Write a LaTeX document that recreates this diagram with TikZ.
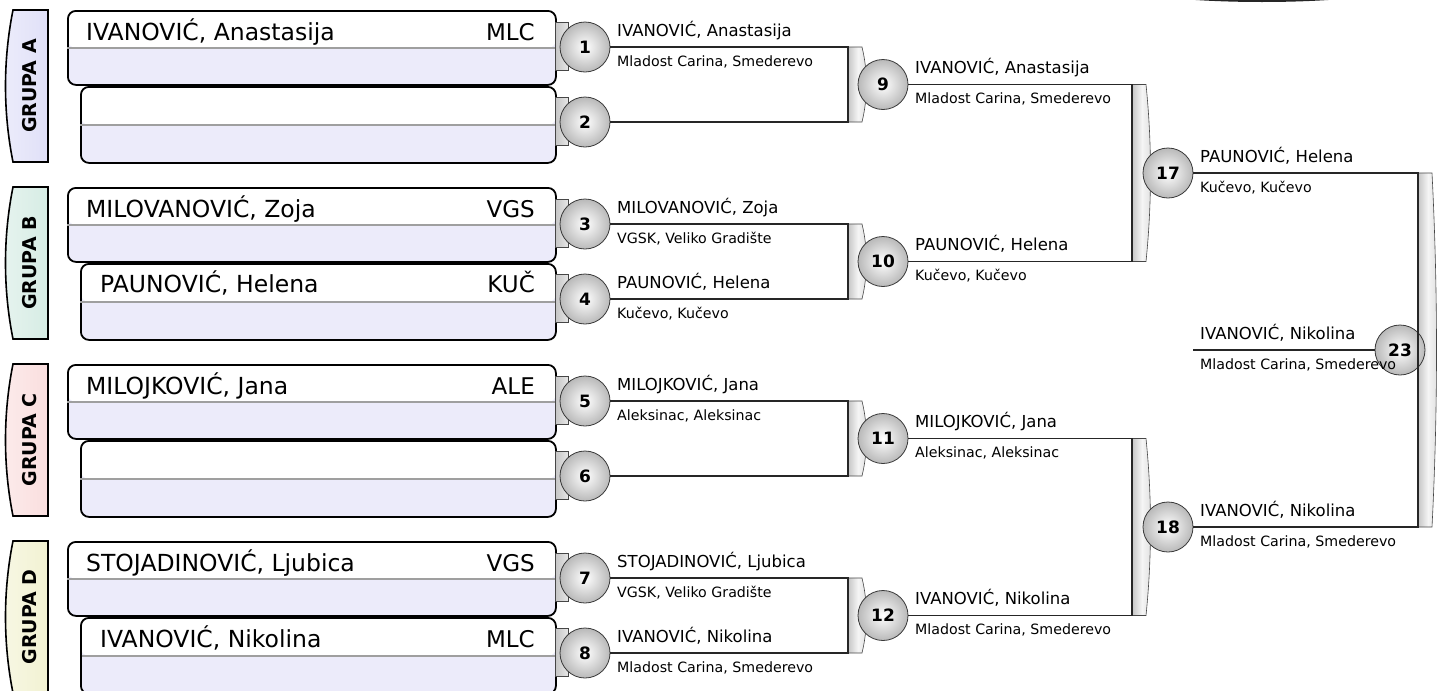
\documentclass[tikz,border=0pt]{standalone}
\usepackage{fontspec}
\setmainfont{DejaVu Sans}
\usetikzlibrary{shapes,fit,positioning}
\definecolor{slotlow}{RGB}{236,235,250}
\definecolor{grpA}{RGB}{224,224,248}
\definecolor{grpB}{RGB}{214,236,228}
\definecolor{grpC}{RGB}{250,222,222}
\definecolor{grpD}{RGB}{242,242,210}
% gray strip behind a bracket: x, top y, bottom y
\newcommand{\Strip}[3]{\path[strip] (#1,#2) -- ++(14,0) .. controls +(6,{(#3-#2)/3}) and +(6,{-(#3-#2)/3}) .. (#1+14,#3) -- (#1,#3) -- cycle;}
% group tab on the left: name, top y, colour, text
\newcommand{\Grupa}[4]{\path[grptab,left color=white!40!#3,right color=#3] (48,#2) -- (13,#2) .. controls (3,#2+50) and (3,#2+102) .. (13,#2+152) -- (48,#2+152) -- cycle;
	\node[grplabel] (#1) at (29.5,#2+76) {#4};}

\begin{document}
\begin{tikzpicture}[x=1pt,y=-1pt,% pixel grid, y runs downwards
			every node/.style={inner sep=0pt},
			slot/.style={
				draw=black,line width=1.8pt,
				rounded corners=8pt,
				fill=slotlow,		% lower half, the upper half is painted white
				anchor=north west,
				path picture={\fill[white] (path picture bounding box.north west) rectangle (path picture bounding box.east);}
			},
			upper/.style={slot,minimum width=488pt,minimum height=74pt},
			lower/.style={slot,minimum width=475pt,minimum height=76pt},
			divider/.style={draw=gray!75,line width=1.4pt,shorten <=1.5pt,shorten >=1.5pt},
			grptab/.style={draw=black,line width=1.6pt},
			grplabel/.style={rotate=90,font=\bfseries\fontsize{19}{20}\selectfont},
			bigname/.style={anchor=base west,font=\fontsize{23.5}{26}\selectfont},
			code/.style={anchor=base east,font=\fontsize{23}{26}\selectfont},
			tab/.style={rectangle,minimum width=13pt,minimum height=48pt,draw=gray!55!black,line width=0.6pt,left color=gray!45,right color=gray!18},
			strip/.style={draw=gray!55!black,line width=0.6pt,left color=gray!45,right color=gray!25,middle color=gray!8},
			wire/.style={draw=black!85,line width=1.8pt},
			seed/.style={circle,minimum size=50pt,draw=gray!45!black,line width=0.8pt,inner color=white,outer color=gray!55,font=\bfseries\fontsize{17}{17}\selectfont},
			winner/.style={anchor=base west,font=\fontsize{16.5}{18}\selectfont},
			club/.style={anchor=base west,font=\fontsize{14.2}{16}\selectfont}
		]
		\useasboundingbox (0,0) rectangle (1441,691);
		% cut off shape at the top edge
		\fill[black!85] (1262,-30) ellipse [x radius=190pt,y radius=32pt];

		% groups
		\Grupa{ga}{10}{grpA}{GRUPA A}
		\Grupa{gb}{187}{grpB}{GRUPA B}
		\Grupa{gc}{364}{grpC}{GRUPA C}
		\Grupa{gd}{541}{grpD}{GRUPA D}

		% player slots
		\node[upper](s1) at (67,10) {};
		\node[lower](s2) at (80,86) {};
		\node[upper](s3) at (67,187) {};
		\node[lower](s4) at (80,263) {};
		\node[upper](s5) at (67,364) {};
		\node[lower](s6) at (80,440) {};
		\node[upper](s7) at (67,541) {};
		\node[lower](s8) at (80,617) {};
		\path[divider]
		(s1.west) -- (s1.east)
		(s2.west) -- (s2.east)
		(s3.west) -- (s3.east)
		(s4.west) -- (s4.east)
		(s5.west) -- (s5.east)
		(s6.west) -- (s6.east)
		(s7.west) -- (s7.east)
		(s8.west) -- (s8.east)
		;
		\node[bigname](n1) at (86,40) {IVANOVIĆ, Anastasija};
		\node[code](m1) at (535,40) {MLC};
		\node[bigname](n3) at (86,217) {MILOVANOVIĆ, Zoja};
		\node[code](m3) at (535,217) {VGS};
		\node[bigname](n4) at (100,292) {PAUNOVIĆ, Helena};
		\node[code](m4) at (535,292) {KUČ};
		\node[bigname](n5) at (86,394) {MILOJKOVIĆ, Jana};
		\node[code](m5) at (535,394) {ALE};
		\node[bigname](n7) at (86,571) {STOJADINOVIĆ, Ljubica};
		\node[code](m7) at (535,571) {VGS};
		\node[bigname](n8) at (100,647) {IVANOVIĆ, Nikolina};
		\node[code](m8) at (535,647) {MLC};

		% small tabs between slot and seed
		\node[tab](t1) at (562,46) {};
		\node[tab](t2) at (562,121) {};
		\node[tab](t3) at (562,223) {};
		\node[tab](t4) at (562,298) {};
		\node[tab](t5) at (562,400) {};
		\node[tab](t6) at (562,475) {};
		\node[tab](t7) at (562,577) {};
		\node[tab](t8) at (562,652) {};

		% brackets
		\Strip{848}{47}{122}
		\Strip{848}{224}{299}
		\Strip{848}{401}{476}
		\Strip{848}{578}{653}
		\Strip{1132}{84.5}{261.5}
		\Strip{1132}{438.5}{615.5}
		\Strip{1418}{173}{527}

		% seeds
		\node[seed](c1) at (585,47) {1};
		\node[seed](c2) at (585,122) {2};
		\node[seed](c3) at (585,224) {3};
		\node[seed](c4) at (585,299) {4};
		\node[seed](c5) at (585,401) {5};
		\node[seed](c6) at (585,476) {6};
		\node[seed](c7) at (585,578) {7};
		\node[seed](c8) at (585,653) {8};
		\node[seed](c9) at (883,84.5) {9};
		\node[seed](c10) at (883,261.5) {10};
		\node[seed](c11) at (883,438.5) {11};
		\node[seed](c12) at (883,615.5) {12};
		\node[seed](c17) at (1168,173) {17};
		\node[seed](c18) at (1168,527) {18};
		\node[seed](c23) at (1400,350) {23};

		% bracket corners
		\coordinate (j9) at (848,122);
		\coordinate (j10) at (848,299);
		\coordinate (j11) at (848,476);
		\coordinate (j12) at (848,653);
		\coordinate (j17) at (1132,261.5);
		\coordinate (j18) at (1132,615.5);
		\coordinate (j23) at (1418,527);
		\coordinate (f23) at (1193,350);
		\draw[wire] (c1.east) -| (j9) -- (c2.east);
		\draw[wire] (c3.east) -| (j10) -- (c4.east);
		\draw[wire] (c5.east) -| (j11) -- (c6.east);
		\draw[wire] (c7.east) -| (j12) -- (c8.east);
		\draw[wire] (c9.east) -| (j17) -- (c10.east);
		\draw[wire] (c11.east) -| (j18) -- (c12.east);
		\draw[wire] (c17.east) -| (j23) -- (c18.east);
		\draw[wire] (f23) -- (c23.west);

		% winners
		\node[winner](w1) at (617,36) {IVANOVIĆ, Anastasija};
		\node[club](k1) at (617,66) {Mladost Carina, Smederevo};
		\node[winner](w3) at (617,213) {MILOVANOVIĆ, Zoja};
		\node[club](k3) at (617,243) {VGSK, Veliko Gradište};
		\node[winner](w4) at (617,288) {PAUNOVIĆ, Helena};
		\node[club](k4) at (617,318) {Kučevo, Kučevo};
		\node[winner](w5) at (617,390) {MILOJKOVIĆ, Jana};
		\node[club](k5) at (617,420) {Aleksinac, Aleksinac};
		\node[winner](w7) at (617,567) {STOJADINOVIĆ, Ljubica};
		\node[club](k7) at (617,597) {VGSK, Veliko Gradište};
		\node[winner](w8) at (617,642) {IVANOVIĆ, Nikolina};
		\node[club](k8) at (617,672) {Mladost Carina, Smederevo};
		\node[winner](w9) at (915,73.5) {IVANOVIĆ, Anastasija};
		\node[club](k9) at (915,103.5) {Mladost Carina, Smederevo};
		\node[winner](w10) at (915,250.5) {PAUNOVIĆ, Helena};
		\node[club](k10) at (915,280.5) {Kučevo, Kučevo};
		\node[winner](w11) at (915,427.5) {MILOJKOVIĆ, Jana};
		\node[club](k11) at (915,457.5) {Aleksinac, Aleksinac};
		\node[winner](w12) at (915,604.5) {IVANOVIĆ, Nikolina};
		\node[club](k12) at (915,634.5) {Mladost Carina, Smederevo};
		\node[winner](w17) at (1200,162) {PAUNOVIĆ, Helena};
		\node[club](k17) at (1200,192) {Kučevo, Kučevo};
		\node[winner](w18) at (1200,516) {IVANOVIĆ, Nikolina};
		\node[club](k18) at (1200,546) {Mladost Carina, Smederevo};
		\node[winner](w23) at (1200,339) {IVANOVIĆ, Nikolina};
		\node[club](k23) at (1200,369) {Mladost Carina, Smederevo};
	\end{tikzpicture}
\end{document}
